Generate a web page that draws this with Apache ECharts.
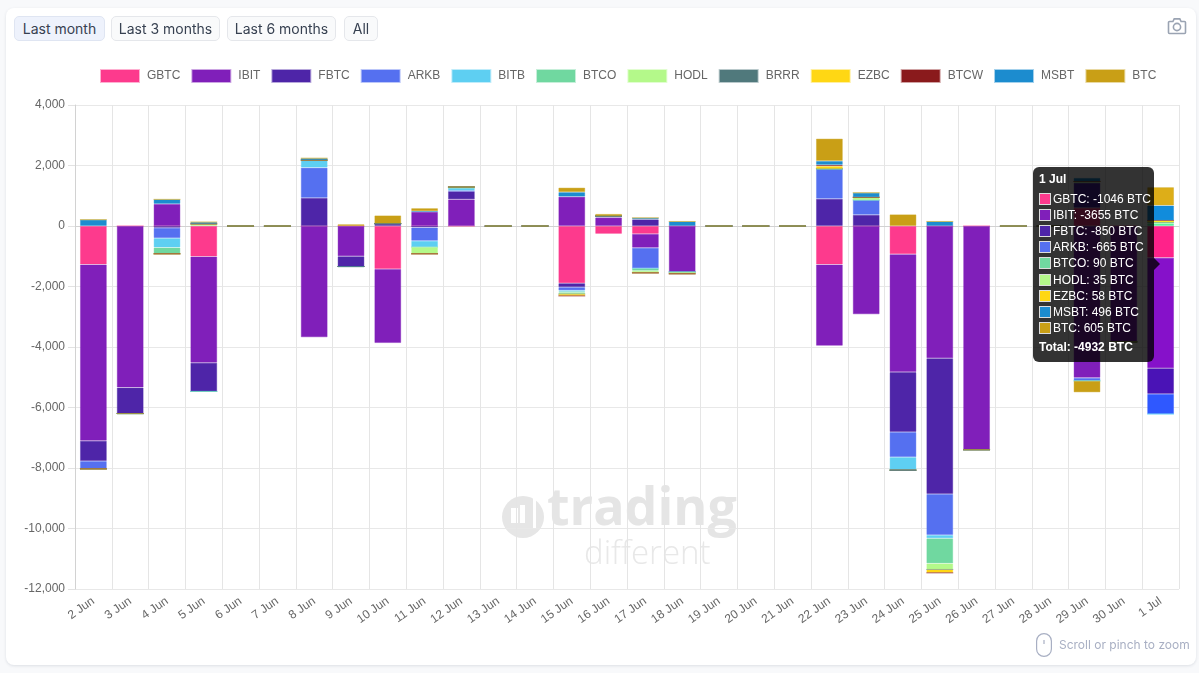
<!DOCTYPE html>
<html>
<head>
<meta charset="utf-8">
<title>Bitcoin ETF flows</title>
<script src="https://cdn.jsdelivr.net/npm/echarts@6/dist/echarts.min.js"></script>
<style>
  html, body { margin: 0; padding: 0; width: 1199px; height: 673px; overflow: hidden; background: #f8f9fb; font-family: Inter, sans-serif; }
  #card { position: absolute; left: 6px; top: 8px; width: 1190px; height: 657px; background: #fff; border-radius: 8px; box-shadow: 0 1px 3px rgba(60,70,90,.14); }
  #chart { position: absolute; left: 0; top: 0; width: 1199px; height: 673px; }
  .range { position: absolute; top: 16px; height: 25px; box-sizing: border-box; border: 1px solid #e5e7eb; border-radius: 5px; background: #f9fafb; color: #374151; font: 14px/23px Inter, sans-serif; text-align: center; z-index: 2; }
  .range.on { background: #eef2fc; border-color: #dfe5f2; }
  #camera { position: absolute; left: 1167px; top: 16px; z-index: 2; }
  #hint { position: absolute; left: 1036px; top: 633px; height: 24px; z-index: 2; color: #a8afc3; font: 12px/24px Inter, sans-serif; white-space: nowrap; }
  #hint svg { position: absolute; left: 0; top: 0; }
  #hint span { position: absolute; left: 23px; top: 0; }
</style>
</head>
<body>
<div id="card"></div>
<div class="range on" style="left:14px;width:91px">Last month</div>
<div class="range" style="left:111px;width:109px">Last 3 months</div>
<div class="range" style="left:227px;width:109px">Last 6 months</div>
<div class="range" style="left:344px;width:34px">All</div>
<svg id="camera" width="20" height="20" viewBox="0 0 20 20" fill="none" stroke="#9aa3b2" stroke-width="1.6">
  <path d="M2.5 5.5h3.4l1.3-2.6h5.6l1.3 2.6h3.4a1 1 0 0 1 1 1v10a1 1 0 0 1-1 1h-15a1 1 0 0 1-1-1v-10a1 1 0 0 1 1-1z"/>
  <circle cx="10" cy="11" r="3.6"/>
</svg>
<div id="hint">
  <svg width="16" height="24" viewBox="0 0 16 24" fill="none" stroke="#a8afc3" stroke-width="1.2">
    <rect x="0.6" y="0.6" width="14.8" height="22.8" rx="7.4"/>
    <line x1="8" y1="7" x2="8" y2="11"/>
  </svg>
  <span>Scroll or pinch to zoom</span>
</div>
<div id="chart"></div>
<script>
// Daily spot Bitcoin ETF flows in BTC, one stacked bar per day.
const days = ['2 Jun','3 Jun','4 Jun','5 Jun','6 Jun','7 Jun','8 Jun','9 Jun','10 Jun','11 Jun','12 Jun','13 Jun','14 Jun','15 Jun','16 Jun','17 Jun','18 Jun','19 Jun','20 Jun','21 Jun','22 Jun','23 Jun','24 Jun','25 Jun','26 Jun','27 Jun','28 Jun','29 Jun','30 Jun','1 Jul'];

const GBTC = [-1270,0,0,-1010,0,0,0,0,-1420,0,0,0,0,-1890,-260,-260,0,0,0,0,-1270,0,-930,0,0,0,0,600,0,-1046];
const IBIT = [-5830,-5340,730,-3510,0,0,-3680,-1000,-2450,470,880,0,0,970,280,-460,-1520,0,0,0,-2690,-2920,-3900,-4370,-7395,0,0,-5020,-3830,-3655];
const FBTC = [-670,-860,-60,-950,0,0,930,-340,80,-50,270,0,0,-130,50,220,0,0,0,0,900,370,-1980,-4490,0,0,0,830,0,-850];
const ARKB = [-260,0,-340,0,0,0,1000,0,0,-440,20,0,0,-110,0,-680,0,0,0,0,990,490,-830,-1355,0,0,0,-100,0,-665];
const BITB = [0,0,-310,0,0,0,250,0,0,-210,90,0,0,-40,0,0,0,0,0,0,0,0,-430,-110,0,0,0,0,0,0];
const BTCO = [0,0,-210,0,0,0,0,0,0,0,0,0,0,-30,0,-80,0,0,0,0,0,0,0,-830,0,0,0,0,0,90];
const HODL = [0,0,0,70,0,0,0,0,0,-220,30,0,0,-50,0,-70,-60,0,0,0,0,90,0,-200,0,0,0,40,0,35];
const BRRR = [0,0,0,0,0,0,0,0,0,0,0,0,0,0,0,0,0,0,0,0,0,0,0,0,0,0,0,0,0,0];
const EZBC = [0,0,0,0,0,0,0,0,0,0,0,0,0,-60,0,0,0,0,0,0,90,0,0,-110,0,0,0,0,0,58];
const BTCW = [0,0,0,0,0,0,0,0,0,0,0,0,0,0,0,0,0,0,0,0,40,0,0,0,0,0,0,0,0,0];
const MSBT = [210,0,150,60,0,0,60,0,0,20,0,0,0,150,0,50,150,0,0,0,130,150,0,150,0,0,0,120,0,496];
const BTC  = [0,0,0,0,0,0,0,60,270,100,0,0,0,150,70,0,0,0,0,0,740,0,385,0,0,0,0,-380,0,605];

const funds = ['GBTC','IBIT','FBTC','ARKB','BITB','BTCO','HODL','BRRR','EZBC','BTCW','MSBT','BTC'];
const flows = [GBTC,IBIT,FBTC,ARKB,BITB,BTCO,HODL,BRRR,EZBC,BTCW,MSBT,BTC];
const fills = ['#fd3a8d','#801fba','#4e25a8','#5570f0','#5ecff2','#70d8a0','#b4f98a','#50797c','#ffd714','#8a1a1c','#1c8ccf','#c99f16'];
const active = ['#ff1f7e','#7a10b8','#4412a6','#2b50ff','#38c6f5','#50e090','#a0ff70','#3f7c80','#ffe000','#901015','#1080c8','#c99f16'];
const focusDay = days.length - 1;

const soft = c => c + '66';

const series = funds.map((name, f) => ({
  name,
  type: 'bar',
  stack: 'flows',
  barWidth: '73%',
  itemStyle: { color: fills[f], borderColor: soft(fills[f]), borderWidth: 1 },
  data: flows[f].map((v, d) => {
    if (d === focusDay) return { value: v, itemStyle: { color: active[f], borderColor: soft(active[f]), borderWidth: 1 } };
    return v;
  })
}));

function tipHtml() {
  const rows = [];
  let total = 0;
  funds.forEach((name, f) => {
    const v = flows[f][focusDay];
    total += v;
    if (v !== 0) rows.push({ name, v, color: fills[f] });
  });
  let html = '<div style="position:absolute;left:6px;top:4px;font:bold 12px/16px \'Liberation Sans\',Arial,sans-serif;color:#fff">' + days[focusDay] + '</div>';
  rows.forEach((r, i) => {
    const y = 24 + i * 16.1;
    html += '<span style="position:absolute;left:6px;top:' + (y + 2) + 'px;width:12px;height:12px;box-sizing:border-box;background:' + r.color + ';border:1px solid #dcdcdc"></span>';
    html += '<span style="position:absolute;left:20px;top:' + y + 'px;font:12px/16px \'Liberation Sans\',Arial,sans-serif;color:#fff;white-space:nowrap">' + r.name + ': ' + r.v + ' BTC</span>';
  });
  html += '<div style="position:absolute;left:6px;top:172px;font:bold 12px/16px \'Liberation Sans\',Arial,sans-serif;color:#fff;white-space:nowrap">Total: ' + total + ' BTC</div>';
  html += '<span style="position:absolute;left:121px;top:91px;width:0;height:0;border:6px solid transparent;border-left-color:rgba(0,0,0,.8);border-right-width:0"></span>';
  return html;
}

const chart = echarts.init(document.getElementById('chart'));
chart.setOption({
  animation: false,
  backgroundColor: 'transparent',
  textStyle: { fontFamily: "'Liberation Sans', Arial, sans-serif" },
  grid: { left: 75, right: 20, top: 105, bottom: 84 },
  legend: {
    top: 64, left: 95, icon: 'rect', itemWidth: 38, itemHeight: 12, itemGap: 11, selectedMode: false,
    data: funds,
    textStyle: { color: '#666', fontSize: 12, fontFamily: "'Liberation Sans', Arial, sans-serif", padding: [0, 0, 0, 3] }
  },
  tooltip: {
    trigger: 'axis',
    triggerOn: 'none',
    alwaysShowContent: true,
    transitionDuration: 0,
    axisPointer: { type: 'none' },
    backgroundColor: 'rgba(0,0,0,0.8)',
    borderWidth: 0,
    padding: 0,
    extraCssText: 'width:121px;height:195px;border-radius:6px;box-shadow:none;',
    position: [1033, 167],
    formatter: tipHtml
  },
  xAxis: {
    type: 'category',
    data: days,
    axisLine: { lineStyle: { color: '#d2d2d2' } },
    axisTick: { length: 7, lineStyle: { color: '#e2e2e2' } },
    splitLine: { show: true, lineStyle: { color: '#e5e5e5' } },
    axisLabel: { rotate: 35, interval: 0, color: '#666', fontSize: 12, margin: 11 }
  },
  yAxis: {
    type: 'value',
    min: -12000,
    max: 4000,
    interval: 2000,
    axisLine: { show: true, lineStyle: { color: '#d2d2d2' } },
    axisTick: { show: true, length: 7, lineStyle: { color: '#e2e2e2' } },
    splitLine: { lineStyle: { color: '#e8e8e8' } },
    axisLabel: { color: '#666', fontSize: 12, margin: 10, formatter: v => v.toLocaleString('en-US') }
  },
  graphic: [
    { type: 'circle', z: 0, shape: { cx: 523, cy: 517, r: 21 }, style: { fill: '#e6e6e6' } },
    { type: 'rect', z: 0, shape: { x: 511, y: 508, width: 7, height: 15 }, style: { fill: '#fff' } },
    { type: 'rect', z: 0, shape: { x: 520, y: 505, width: 5, height: 18 }, style: { fill: '#fff' } },
    { type: 'rect', z: 0, shape: { x: 533, y: 498, width: 3, height: 30 }, style: { fill: '#fff' } },
    { type: 'text', z: 0, left: 547, top: 484, style: { text: 'trading', fill: '#e5e5e5', font: "bold 52px 'Open Sans', sans-serif" } },
    { type: 'text', z: 0, left: 584, top: 538, style: { text: 'different', fill: '#e8e8e8', font: "300 33px 'Open Sans', sans-serif" } }
  ],
  series
});
chart.dispatchAction({ type: 'showTip', seriesIndex: 0, dataIndex: focusDay });
</script>
</body>
</html>
